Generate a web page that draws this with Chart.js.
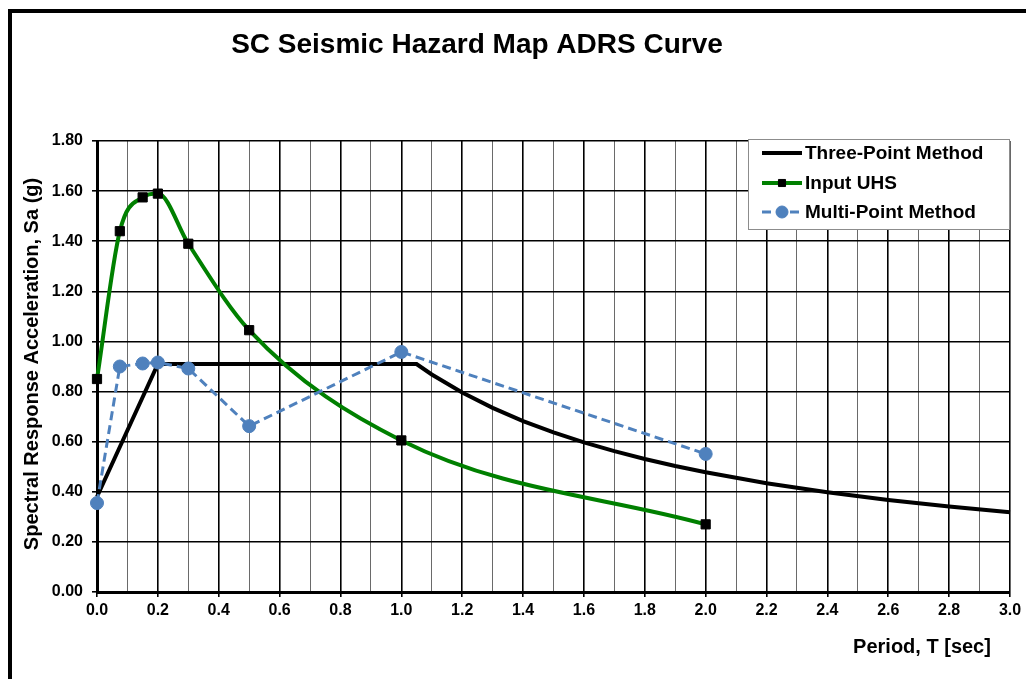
<!DOCTYPE html>
<html>
<head>
<meta charset="utf-8">
<script src="https://cdn.jsdelivr.net/npm/chart.js@4.4.0/dist/chart.umd.min.js"></script>
<style>
  html, body { margin: 0; padding: 0; background: #fff; }
  #wrap { width: 1026px; height: 679px; position: relative; }
</style>
</head>
<body>
<div id="wrap"><canvas id="myChart"></canvas></div>
<script>
// Three-Point Method (design spectrum)
const threePointT  = [0, 0.2, 1.05, 1.1, 1.2, 1.3, 1.4, 1.5, 1.6, 1.7, 1.8, 1.9, 2.0, 2.2, 2.4, 2.6, 2.8, 3.0];
const threePointSa = [0.38, 0.91, 0.91, 0.868, 0.796, 0.735, 0.682, 0.637, 0.597, 0.562, 0.531, 0.503, 0.478, 0.434, 0.398, 0.367, 0.341, 0.318];

// Input UHS
const uhsT  = [0, 0.075, 0.15, 0.2, 0.3, 0.5, 1.0, 2.0];
const uhsSa = [0.85, 1.44, 1.575, 1.59, 1.39, 1.045, 0.605, 0.27];

// Multi-Point Method
const multiT  = [0, 0.075, 0.15, 0.2, 0.3, 0.5, 1.0, 2.0];
const multiSa = [0.355, 0.9, 0.912, 0.916, 0.892, 0.662, 0.958, 0.551];

const xTickLabels = ['0.0','0.2','0.4','0.6','0.8','1.0','1.2','1.4','1.6','1.8','2.0','2.2','2.4','2.6','2.8','3.0'];

const BLUE = '#4F81BD';
const GREEN = '#008000';
const FONT = '"Liberation Sans", Arial, sans-serif';

const toXY = (xs, ys) => xs.map((x, i) => ({ x: x, y: ys[i] }));
const isMajor = (v) => Math.round(v * 10) % 2 === 0;

const decor = {
    id: 'decor',
    beforeDraw(chart) {
        const ctx = chart.ctx;
        ctx.save();
        ctx.fillStyle = '#fff';
        ctx.fillRect(0, 0, chart.width, chart.height);
        ctx.restore();
    },
    afterDraw(chart) {
        const ctx = chart.ctx;
        ctx.save();

        // outer frame
        ctx.strokeStyle = '#000';
        ctx.lineWidth = 4;
        ctx.strokeRect(10, 11, 1060, 720);

        ctx.fillStyle = '#000';
        // title
        ctx.font = 'bold 28px ' + FONT;
        ctx.textAlign = 'center';
        ctx.textBaseline = 'alphabetic';
        ctx.fillText('SC Seismic Hazard Map ADRS Curve', 477, 53);

        // axis titles
        ctx.font = 'bold 20px ' + FONT;
        ctx.textBaseline = 'middle';
        ctx.fillText('Period, T [sec]', 922, 647);
        ctx.save();
        ctx.translate(32, 364);
        ctx.rotate(-Math.PI / 2);
        ctx.fillText('Spectral Response Acceleration, Sa (g)', 0, 0);
        ctx.restore();

        // legend
        ctx.fillStyle = '#fff';
        ctx.fillRect(748, 139, 261, 90);
        ctx.strokeStyle = '#8c8c8c';
        ctx.lineWidth = 1;
        ctx.strokeRect(748.5, 139.5, 261, 90);

        const rows = [153, 183, 212];
        chart.data.datasets.forEach((ds, i) => {
            const y = rows[i];
            ctx.save();
            ctx.strokeStyle = ds.borderColor;
            ctx.lineWidth = ds.borderWidth;
            ctx.setLineDash(ds.borderDash || []);
            ctx.beginPath();
            ctx.moveTo(762, y);
            ctx.lineTo(802, y);
            ctx.stroke();
            ctx.setLineDash([]);
            if (ds.pointRadius > 0) {
                ctx.fillStyle = ds.pointBackgroundColor;
                ctx.strokeStyle = ds.pointBorderColor;
                ctx.lineWidth = 1;
                Chart.helpers.drawPoint(ctx, {
                    pointStyle: ds.pointStyle,
                    radius: ds.pointStyle === 'rect' ? 5 : 6,
                    borderWidth: 1
                }, 782, y);
            }
            ctx.restore();
            ctx.fillStyle = '#000';
            ctx.font = 'bold 19px ' + FONT;
            ctx.textAlign = 'left';
            ctx.textBaseline = 'middle';
            ctx.fillText(ds.label, 805, y + 1);
        });

        ctx.restore();
    }
};

const chart = new Chart(document.getElementById('myChart'), {
    type: 'scatter',
    data: {
        datasets: [
            {
                label: 'Three-Point Method',
                data: toXY(threePointT, threePointSa),
                showLine: true,
                clip: false,
                borderColor: '#000',
                backgroundColor: '#000',
                borderWidth: 4,
                pointRadius: 0,
                tension: 0,
                order: 3
            },
            {
                label: 'Input UHS',
                data: toXY(uhsT, uhsSa),
                showLine: true,
                clip: false,
                borderColor: GREEN,
                backgroundColor: GREEN,
                borderWidth: 4,
                cubicInterpolationMode: 'monotone',
                pointStyle: 'rect',
                pointRadius: 6.5,
                pointBackgroundColor: '#000',
                pointBorderColor: '#000',
                pointBorderWidth: 1,
                order: 2
            },
            {
                label: 'Multi-Point Method',
                data: toXY(multiT, multiSa),
                showLine: true,
                clip: false,
                borderColor: BLUE,
                backgroundColor: BLUE,
                borderWidth: 3,
                borderDash: [9, 5],
                tension: 0,
                pointStyle: 'circle',
                pointRadius: 6.5,
                pointBackgroundColor: BLUE,
                pointBorderColor: BLUE,
                pointBorderWidth: 1,
                order: 1
            }
        ]
    },
    options: {
        responsive: true,
        maintainAspectRatio: false,
        animation: false,
        layout: { padding: { top: 141, right: 16, left: 0, bottom: 0 } },
        plugins: {
            legend: { display: false },
            title: { display: false },
            tooltip: { enabled: false }
        },
        scales: {
            x: {
                type: 'linear',
                min: 0,
                max: 3,
                afterFit: (s) => { s.height = 87; },
                ticks: {
                    stepSize: 0.1,
                    autoSkip: false,
                    maxRotation: 0,
                    padding: 4,
                    color: '#000',
                    font: { family: FONT, size: 16, weight: 'bold' },
                    callback: (v) => isMajor(v) ? xTickLabels[Math.round(v * 5)] : ''
                },
                grid: {
                    color: (c) => (c.tick && isMajor(c.tick.value)) ? '#000' : '#6a6a6a',
                    lineWidth: (c) => (c.tick && isMajor(c.tick.value)) ? 1.6 : 1,
                    tickLength: 5,
                    tickColor: (c) => (c.tick && isMajor(c.tick.value)) ? '#000' : 'rgba(0,0,0,0)',
                    tickWidth: 1.6
                },
                border: { color: '#000', width: 3 }
            },
            y: {
                type: 'linear',
                min: 0,
                max: 1.8,
                afterFit: (s) => { s.width = 97; },
                ticks: {
                    stepSize: 0.2,
                    padding: 9,
                    color: '#000',
                    font: { family: FONT, size: 16, weight: 'bold' },
                    callback: (v) => v.toFixed(2)
                },
                grid: {
                    color: '#000',
                    lineWidth: 1.6,
                    tickLength: 5,
                    tickColor: '#000'
                },
                border: { color: '#000', width: 3 }
            }
        }
    },
    plugins: [decor]
});
</script>
</body>
</html>
